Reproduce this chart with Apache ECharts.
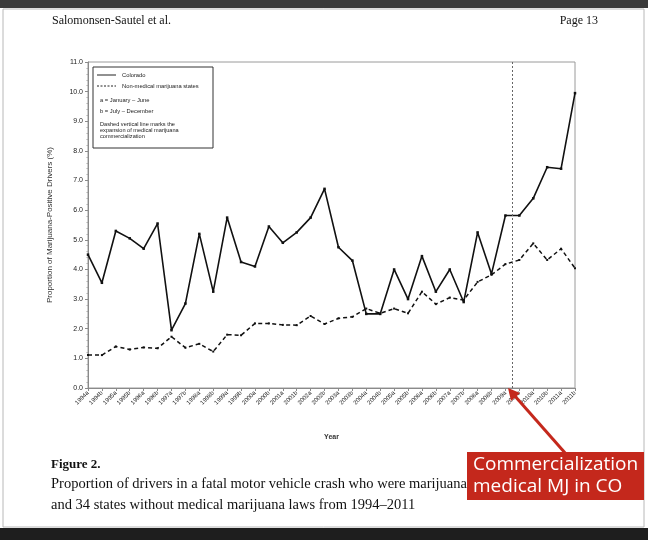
<!DOCTYPE html>
<html>
<head>
<meta charset="utf-8">
<script src="https://cdn.jsdelivr.net/npm/echarts@6/dist/echarts.min.js"></script>
<style>
html,body{margin:0;padding:0;background:#fff;}
#c{width:648px;height:540px;}
</style>
</head>
<body>
<div id="c"></div>
<script>
// Categories: half-year periods 1994a .. 2011b
const years = [1994,1995,1996,1997,1998,1999,2000,2001,2002,2003,2004,2005,2006,2007,2008,2009,2010,2011];
const halves = ['a','b'];
const categories = [];
years.forEach(y => halves.forEach(h => categories.push(y + h)));

// Proportion of marijuana-positive drivers (%)
const colorado = [4.5,3.55,5.3,5.05,4.7,5.55,1.95,2.85,5.2,3.25,5.75,4.25,4.1,5.45,4.9,5.25,5.75,6.72,4.75,4.3,2.5,2.5,4.0,3.0,4.45,3.25,4.0,2.9,5.25,3.85,5.82,5.82,6.4,7.45,7.4,9.95];
const nonMedical = [1.11,1.11,1.4,1.3,1.37,1.34,1.73,1.36,1.49,1.23,1.8,1.78,2.18,2.18,2.13,2.12,2.43,2.16,2.35,2.4,2.68,2.52,2.68,2.52,3.25,2.83,3.05,2.97,3.58,3.82,4.18,4.32,4.88,4.32,4.7,4.04];
const commercializationIndex = 30.5; // between 2009a and 2009b

const yTicks = {min: 0, max: 11, interval: 1};

const chart = echarts.init(document.getElementById('c'), null, {renderer: 'canvas'});
const pair = arr => arr.map((v, i) => [i, v]);
const sans = 'Liberation Sans';

const option = {
  backgroundColor: '#fff',
  animation: false,
  grid: {left: 88, right: 73, top: 62, bottom: 152, containLabel: false, show: true, borderColor: '#9a9a9a', borderWidth: 1, backgroundColor: 'transparent'},
  xAxis: {
    type: 'value', min: 0, max: categories.length - 1, interval: 1,
    name: 'Year', nameLocation: 'middle', nameGap: 46,
    nameTextStyle: {fontFamily: sans, fontSize: 7, fontWeight: 'bold', color: '#333'},
    axisLine: {show: true, lineStyle: {color: '#8a8a8a', width: 1}},
    axisTick: {show: true, length: 3, lineStyle: {color: '#8a8a8a'}},
    splitLine: {show: false},
    axisLabel: {rotate: 45, fontSize: 6, fontFamily: sans, color: '#222', margin: 4,
      formatter: v => categories[v] !== undefined ? categories[v] : ''}
  },
  yAxis: {
    type: 'value', min: yTicks.min, max: yTicks.max, interval: yTicks.interval,
    name: 'Proportion of Marijuana-Positive Drivers (%)', nameLocation: 'middle', nameGap: 34,
    nameTextStyle: {fontFamily: sans, fontSize: 8, color: '#333'},
    axisLine: {show: true, lineStyle: {color: '#8a8a8a', width: 1}},
    axisTick: {show: true, length: 3, lineStyle: {color: '#8a8a8a'}},
    minorTick: {show: true, splitNumber: 5, length: 1.5, lineStyle: {color: '#aaa'}},
    splitLine: {show: false},
    axisLabel: {fontSize: 7, fontFamily: sans, color: '#222', margin: 5,
      formatter: v => v.toFixed(1)}
  },
  series: [
    {
      name: 'Colorado', type: 'line', data: pair(colorado),
      symbol: 'rect', symbolSize: 2.5, itemStyle: {color: '#111'},
      lineStyle: {color: '#111', width: 1.6},
      markLine: {
        silent: true, symbol: ['none','none'], label: {show: false},
        lineStyle: {type: [2, 2], color: '#666', width: 1},
        data: [{xAxis: commercializationIndex}]
      }
    },
    {
      name: 'Non-medical marijuana states', type: 'line', data: pair(nonMedical),
      symbol: 'rect', symbolSize: 2, itemStyle: {color: '#111'},
      lineStyle: {color: '#111', width: 1.5, type: [4, 3]}
    }
  ],
  graphic: [
    // page frame
    {type: 'rect', shape: {x: 3, y: 9, width: 641, height: 518}, style: {fill: 'none', stroke: '#b8b8b8', lineWidth: 1}, z: 0},
    {type: 'rect', shape: {x: 0, y: 0, width: 648, height: 8}, style: {fill: '#3a3a3a'}},
    {type: 'rect', shape: {x: 0, y: 528, width: 648, height: 12}, style: {fill: '#1e1e1e'}},
    {type: 'text', left: 52, top: 15, style: {text: 'Salomonsen-Sautel et al.', font: '12px "Liberation Serif"', fill: '#111'}},
    {type: 'text', right: 50, top: 15, style: {text: 'Page 13', font: '12px "Liberation Serif"', fill: '#111'}},
    // legend box
    {type: 'rect', shape: {x: 93, y: 67, width: 120, height: 81}, style: {fill: '#fff', stroke: '#333', lineWidth: 1}, z: 10},
    {type: 'line', shape: {x1: 97, y1: 75, x2: 116, y2: 75}, style: {stroke: '#222', lineWidth: 1}, z: 11},
    {type: 'text', x: 122, y: 72, style: {text: 'Colorado', font: '5.8px "Liberation Sans"', fill: '#222'}, z: 11},
    {type: 'line', shape: {x1: 97, y1: 86, x2: 116, y2: 86}, style: {stroke: '#222', lineWidth: 1, lineDash: [2, 1.5]}, z: 11},
    {type: 'text', x: 122, y: 83, style: {text: 'Non-medical marijuana states', font: '5.8px "Liberation Sans"', fill: '#222'}, z: 11},
    {type: 'text', x: 100, y: 97, style: {text: 'a = January \u2013 June', font: '5.8px "Liberation Sans"', fill: '#222'}, z: 11},
    {type: 'text', x: 100, y: 108, style: {text: 'b = July \u2013 December', font: '5.8px "Liberation Sans"', fill: '#222'}, z: 11},
    {type: 'text', x: 100, y: 121, style: {text: 'Dashed vertical line marks the\nexpansion of medical marijuana\ncommercialization', font: '5.6px "Liberation Sans"', fill: '#222', lineHeight: 6.3}, z: 11},
    // caption
    {type: 'text', left: 51, top: 458, style: {text: 'Figure 2.', font: 'bold 13px "Liberation Serif"', fill: '#111'}},
    {type: 'text', left: 51, top: 477, style: {text: 'Proportion of drivers in a fatal motor vehicle crash who were marijuana-positive in Colorado', font: '14.5px "Liberation Serif"', fill: '#111'}},
    {type: 'text', left: 51, top: 498, style: {text: 'and 34 states without medical marijuana laws from 1994\u20132011', font: '14.5px "Liberation Serif"', fill: '#111'}},
    // callout
    {type: 'rect', shape: {x: 467, y: 452, width: 177, height: 48}, style: {fill: '#c4281c'}, z: 20},
    {type: 'text', x: 473, y: 455, style: {text: 'Commercialization', font: '19px "Open Sans"', fill: '#fff'}, z: 21},
    {type: 'text', x: 473, y: 477, style: {text: 'medical MJ in CO', font: '19px "Open Sans"', fill: '#fff'}, z: 21},
    {type: 'line', shape: {x1: 566, y1: 454, x2: 514, y2: 395}, style: {stroke: '#c4281c', lineWidth: 3}, z: 20},
    {type: 'polygon', shape: {points: [[508, 388], [520, 393], [511, 401]]}, style: {fill: '#c4281c'}, z: 20}
  ]
};
chart.setOption(option);
</script>
</body>
</html>
